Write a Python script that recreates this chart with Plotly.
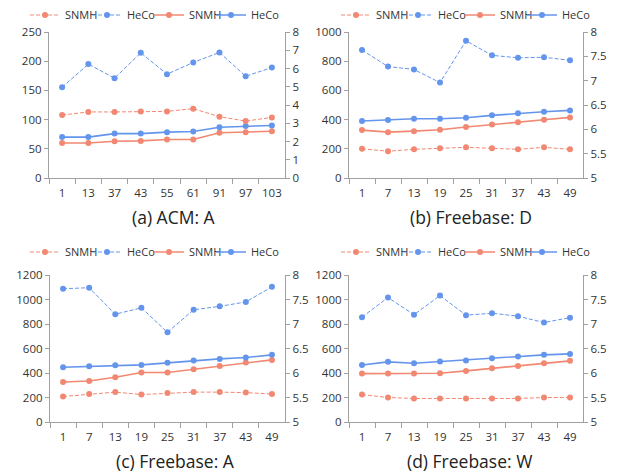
import plotly.graph_objects as go

# ---------------- data ----------------
cats_a = ["1", "13", "37", "43", "55", "61", "91", "97", "103"]
cats_fb = ["1", "7", "13", "19", "25", "31", "37", "43", "49"]

# (a) ACM: A  -- dashed series on right axis, solid on left axis
a_snmh_dash = [3.45, 3.62, 3.62, 3.65, 3.65, 3.80, 3.36, 3.12, 3.32]
a_heco_dash = [4.97, 6.24, 5.47, 6.86, 5.69, 6.33, 6.88, 5.58, 6.05]
a_snmh_solid = [60, 60, 63, 63.5, 66, 66, 77.5, 78.5, 80]
a_heco_solid = [70, 70, 76, 76, 78.5, 79.5, 87, 89, 90]

# (b) Freebase: D
b_snmh_dash = [5.60, 5.55, 5.59, 5.61, 5.63, 5.61, 5.59, 5.63, 5.59]
b_heco_dash = [7.63, 7.29, 7.23, 6.96, 7.82, 7.52, 7.47, 7.48, 7.42]
b_snmh_solid = [328, 314, 321, 330, 349, 367, 381, 399, 415]
b_heco_solid = [390, 397, 406, 406, 413, 429, 443, 454, 463]

# (c) Freebase: A
c_snmh_dash = [5.52, 5.57, 5.61, 5.56, 5.59, 5.61, 5.61, 5.60, 5.57]
c_heco_dash = [7.72, 7.74, 7.20, 7.33, 6.83, 7.29, 7.36, 7.45, 7.76]
c_snmh_solid = [327, 335, 365, 404, 404, 431, 458, 485, 507]
c_heco_solid = [447, 455, 464, 466, 483, 502, 515, 526, 548]

# (d) Freebase: W
d_snmh_dash = [5.56, 5.50, 5.48, 5.48, 5.48, 5.48, 5.48, 5.50, 5.50]
d_heco_dash = [7.14, 7.54, 7.19, 7.58, 7.18, 7.22, 7.16, 7.03, 7.13]
d_snmh_solid = [395, 395, 395, 398, 417, 439, 458, 480, 499]
d_heco_solid = [466, 491, 480, 494, 502, 521, 535, 548, 556]

titles = ["(a) ACM: A", "(b) Freebase: D", "(c) Freebase: A", "(d) Freebase: W"]
left_ranges = [(0, 250, 50), (0, 1000, 200), (0, 1200, 200), (0, 1200, 200)]
right_ranges = [(0, 8, 1), (5, 8, 0.5), (5, 8, 0.5), (5, 8, 0.5)]

panels = [
    (cats_a, a_snmh_dash, a_heco_dash, a_snmh_solid, a_heco_solid),
    (cats_fb, b_snmh_dash, b_heco_dash, b_snmh_solid, b_heco_solid),
    (cats_fb, c_snmh_dash, c_heco_dash, c_snmh_solid, c_heco_solid),
    (cats_fb, d_snmh_dash, d_heco_dash, d_snmh_solid, d_heco_solid),
]

# ---------------- style ----------------
OFF = 8                      # page body margin in the browser
W, H = 622 - OFF, 472 - OFF  # figure size so it fits the window
SALMON = "#F28872"
BLUE = "#6495ED"
AXIS = "#A0A0A0"
FONT = "Open Sans"


def px(x):
    return (x - OFF) / W


def py(y):
    return 1 - (y - OFF) / H


# pixel boxes (window coords) for each panel: (left, right, top, bottom)
boxes = [(49, 285, 32, 178), (349, 583, 32, 178), (50, 285, 275, 422), (349, 583, 275, 422)]
title_pos = [(174, 217), (471, 217), (175, 461), (469, 461)]
legend_pos = [(25, 15), (336, 15), (25, 252), (336, 252)]

fig = go.Figure()
layout = dict(
    width=W, height=H, margin=dict(l=0, r=0, t=0, b=0, autoexpand=False),
    paper_bgcolor="white", plot_bgcolor="white",
    font=dict(family=FONT, size=11, color="#333333"),
    annotations=[],
)

for i, (cats, sd, hd, ss, hs) in enumerate(panels):
    n = i + 1
    xname = "x" if n == 1 else f"x{n}"
    yl = 2 * i + 1
    yr = 2 * i + 2
    ylname = "y" if yl == 1 else f"y{yl}"
    yrname = f"y{yr}"
    leg = "legend" if n == 1 else f"legend{n}"

    series = [
        ("SNMH", sd, SALMON, "4px,2px", 1, yrname),
        ("HeCo", hd, BLUE, "4px,2px", 1, yrname),
        ("SNMH", ss, SALMON, "solid", 1.6, ylname),
        ("HeCo", hs, BLUE, "solid", 1.6, ylname),
    ]
    for name, vals, col, dash, lw, yax in series:
        fig.add_trace(go.Scatter(
            x=cats, y=vals, name=name, mode="lines+markers",
            line=dict(color=col, width=lw, dash=dash),
            marker=dict(color=col, size=6),
            xaxis=xname, yaxis=yax, legend=leg,
        ))
    # empty spacer entry so the last legend label is not clipped
    fig.add_trace(go.Scatter(
        x=[None], y=[None], name=" ", mode="lines", line=dict(color="rgba(0,0,0,0)", width=0),
        xaxis=xname, yaxis=ylname, legend=leg, hoverinfo="skip", showlegend=True,
    ))

    l, r, t, b = boxes[i]
    xd = [px(l), px(r)]
    yd = [py(b), py(t)]
    xkey = "xaxis" if n == 1 else f"xaxis{n}"
    ylkey = "yaxis" if yl == 1 else f"yaxis{yl}"
    yrkey = f"yaxis{yr}"

    layout[xkey] = dict(
        domain=xd, anchor=ylname, type="category", range=[-0.5, 8.5],
        categoryorder="array", categoryarray=cats,
        showline=True, linecolor=AXIS, linewidth=1.3, showgrid=False, zeroline=False,
        ticks="outside", tickson="boundaries", ticklen=5, tickcolor=AXIS, tickangle=0,
        tickfont=dict(size=11.5, color="#333333", family=FONT), ticklabelstandoff=4,
    )
    lo, hi, dt = left_ranges[i]
    layout[ylkey] = dict(
        domain=yd, anchor=xname, range=[lo, hi], dtick=dt, tick0=lo,
        showline=True, linecolor=AXIS, linewidth=1.3, showgrid=False, zeroline=False,
        ticks="outside", ticklen=4, tickcolor=AXIS,
        tickfont=dict(size=11.5, color="#333333", family=FONT),
    )
    rlo, rhi, rdt = right_ranges[i]
    layout[yrkey] = dict(
        overlaying=ylname, side="right", anchor=xname, range=[rlo, rhi], dtick=rdt, tick0=rlo,
        showline=True, linecolor=AXIS, linewidth=1.3, showgrid=False, zeroline=False,
        ticks="outside", ticklen=4, tickcolor=AXIS,
        tickfont=dict(size=11.5, color="#333333", family=FONT),
    )
    lx, ly = legend_pos[i]
    layout[leg] = dict(
        orientation="h", x=px(lx), y=py(ly), xanchor="left", yanchor="middle",
        font=dict(size=11, family=FONT, color="#333333"), itemwidth=30,
        entrywidth=17, entrywidthmode="pixels",
        bgcolor="rgba(0,0,0,0)", tracegroupgap=0,
    )
    tx, ty = title_pos[i]
    layout["annotations"].append(dict(
        text=titles[i], x=px(tx), y=py(ty), xref="paper", yref="paper",
        xanchor="center", yanchor="middle", showarrow=False,
        font=dict(size=17.5, family=FONT, color="#222222"),
    ))

fig.update_layout(**layout)
fig.write_html("out.html")
